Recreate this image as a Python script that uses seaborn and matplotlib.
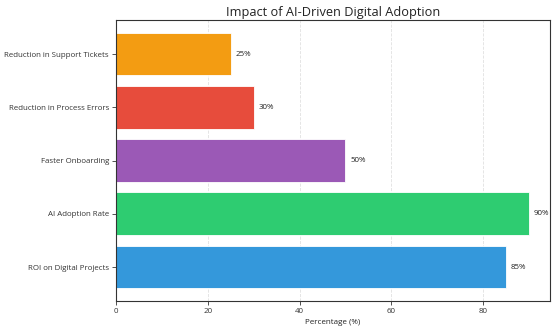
import matplotlib
matplotlib.use("Agg")
import matplotlib.pyplot as plt
import seaborn as sns
import pandas as pd

# Impact metrics (top to bottom as drawn)
metrics = [
    "Reduction in Support Tickets",
    "Reduction in Process Errors",
    "Faster Onboarding",
    "AI Adoption Rate",
    "ROI on Digital Projects",
]
values = [25, 30, 50, 90, 85]
colors = ["#f39c12", "#e74c3c", "#9b59b6", "#2ecc71", "#3498db"]

df = pd.DataFrame({"Metric": metrics, "Value": values})

sns.set_style("white")
plt.rcParams["font.family"] = ["Open Sans", "DejaVu Sans"]

fig, ax = plt.subplots(figsize=(5.57, 3.32), dpi=100)
fig.subplots_adjust(left=0.208, right=0.987, top=0.94, bottom=0.093)

sns.barplot(data=df, x="Value", y="Metric", hue="Metric", palette=colors,
            orient="h", legend=False, ax=ax, width=0.8, saturation=1,
            edgecolor="white", linewidth=0.6)

for i, v in enumerate(values):
    ax.text(v + 1.0, i, f"{v}%", va="center", ha="left", fontsize=5.7,
            color="#222222")

ax.set_xlim(0, max(values) * 1.05)
ax.set_ylim(len(metrics) - 1 + 0.64, -0.64)
ax.set_xticks([0, 20, 40, 60, 80])
ax.set_xlabel("Percentage (%)", fontsize=5.8, color="#222222", labelpad=3)
ax.set_ylabel("")
ax.set_title("Impact of AI-Driven Digital Adoption", fontsize=9.2,
             color="#222222", pad=3)
ax.tick_params(axis="both", labelsize=5.7, colors="#333333", length=3,
               width=0.6, left=True, bottom=True, pad=2)
ax.grid(axis="x", linestyle="--", alpha=0.6, linewidth=0.6)
ax.set_axisbelow(True)
for s in ax.spines.values():
    s.set_visible(True)
    s.set_color("#333333")
    s.set_linewidth(0.8)

fig.savefig("out.png", dpi=100)
